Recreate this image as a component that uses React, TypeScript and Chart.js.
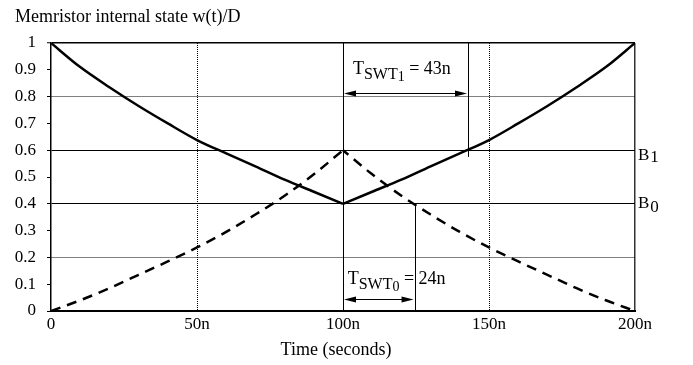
import React, { useEffect, useRef } from "react";
import { Chart, registerables } from "chart.js";

Chart.register(...registerables);

// ---- data (time in ns, value = w(t)/D) ----
const timesDown = [0, 10, 20, 30, 40, 50, 60, 70, 80, 90, 100];
const timesUp = [100, 110, 120, 130, 140, 150, 160, 170, 180, 190, 200];
const solidDown = [1.0, 0.91, 0.835, 0.765, 0.7, 0.638, 0.588, 0.54, 0.49, 0.445, 0.4];
const solidUp = [0.4, 0.445, 0.49, 0.54, 0.588, 0.638, 0.7, 0.765, 0.835, 0.91, 1.0];
const dashedUp = [0, 0.04, 0.085, 0.135, 0.185, 0.237, 0.295, 0.36, 0.43, 0.51, 0.6];
const dashedDown = [0.6, 0.51, 0.43, 0.36, 0.295, 0.237, 0.185, 0.135, 0.085, 0.04, 0.0];

const xTicks = [0, 50, 100, 150, 200];
const xTickLabels = ["0", "50n", "100n", "150n", "200n"];
const yTicks = [0, 0.1, 0.2, 0.3, 0.4, 0.5, 0.6, 0.7, 0.8, 0.9, 1];
const yTickLabels = ["0", "0.1", "0.2", "0.3", "0.4", "0.5", "0.6", "0.7", "0.8", "0.9", "1"];

// annotations
const markerLines = [
  { x: 142.8, y0: 1.0, y1: 0.575 },
  { x: 124.5, y0: 0.4, y1: 0.0 },
];
const arrows = [
  { x0: 100, x1: 142.8, y: 0.815 },
  { x0: 100, x1: 124.5, y: 0.044 },
];
const swtLabels = [
  { x: 103.4, y: 0.884, sub: "1", value: "43n" },
  { x: 101.6, y: 0.1, sub: "0", value: "24n" },
];
const levelLabels = [
  { text: "B", sub: "1", y: 0.563, drop: 2 },
  { text: "B", sub: "0", y: 0.383, drop: 3.4 },
];
const chartTitle = "Memristor internal state w(t)/D";
const xAxisTitle = "Time (seconds)";

const FONT = "'Liberation Serif', 'Times New Roman', serif";

function mk(xs: number[], ys: number[]) {
  return xs.map((x, i) => ({ x, y: ys[i] }));
}

const key = (v: number) => Math.round(v * 10);

export default function App() {
  const ref = useRef<HTMLCanvasElement | null>(null);

  useEffect(() => {
    document.body.style.margin = "0";
    const canvas = ref.current;
    if (!canvas) return;

    const annotate = {
      id: "annotate",
      afterDatasetsDraw(chart: any) {
        const { ctx, scales, chartArea } = chart;
        const xs = scales.x;
        const ys = scales.y;
        ctx.save();
        ctx.strokeStyle = "#000";
        ctx.fillStyle = "#000";
        ctx.lineWidth = 1;
        ctx.setLineDash([]);
        for (const m of markerLines) {
          const px = Math.round(xs.getPixelForValue(m.x)) + 0.5;
          ctx.beginPath();
          ctx.moveTo(px, ys.getPixelForValue(m.y0));
          ctx.lineTo(px, ys.getPixelForValue(m.y1));
          ctx.stroke();
        }
        for (const a of arrows) {
          const x0 = xs.getPixelForValue(a.x0) + 1;
          const x1 = xs.getPixelForValue(a.x1) - 1;
          const py = Math.round(ys.getPixelForValue(a.y)) + 0.5;
          ctx.beginPath();
          ctx.moveTo(x0 + 4, py);
          ctx.lineTo(x1 - 4, py);
          ctx.stroke();
          const L = 12, H = 3;
          ctx.beginPath();
          ctx.moveTo(x0, py);
          ctx.lineTo(x0 + L, py - H);
          ctx.lineTo(x0 + L, py + H);
          ctx.closePath();
          ctx.fill();
          ctx.beginPath();
          ctx.moveTo(x1, py);
          ctx.lineTo(x1 - L, py - H);
          ctx.lineTo(x1 - L, py + H);
          ctx.closePath();
          ctx.fill();
        }
        ctx.textBaseline = "alphabetic";
        ctx.textAlign = "left";
        const parts = (x: number, base: number, ps: { t: string; s: number; dy: number }[]) => {
          let cx = x;
          for (const p of ps) {
            ctx.font = `${p.s}px ${FONT}`;
            ctx.fillText(p.t, cx, base + p.dy);
            cx += ctx.measureText(p.t).width;
          }
        };
        for (const l of swtLabels) {
          parts(xs.getPixelForValue(l.x), ys.getPixelForValue(l.y), [
            { t: "T", s: 18, dy: 0 },
            { t: "SWT", s: 16, dy: 5 },
            { t: l.sub, s: 14, dy: 7 },
            { t: " = " + l.value, s: 18, dy: 0 },
          ]);
        }
        for (const b of levelLabels) {
          const x = chartArea.right + 3;
          const base = ys.getPixelForValue(b.y);
          ctx.font = `17px ${FONT}`;
          ctx.fillText(b.text, x, base);
          const w = ctx.measureText(b.text).width;
          ctx.fillText(b.sub, x + w + 1, base + b.drop);
        }
        ctx.restore();
      },
      afterDraw(chart: any) {
        const { ctx } = chart;
        ctx.save();
        ctx.fillStyle = "#000";
        ctx.textBaseline = "alphabetic";
        ctx.font = `18px ${FONT}`;
        ctx.textAlign = "left";
        ctx.fillText(chartTitle, 15, 22);
        ctx.textAlign = "center";
        ctx.fillText(xAxisTitle, 336, 355);
        ctx.restore();
      },
    };

    const chart = new Chart(canvas, {
      type: "line",
      data: {
        datasets: [
          { data: mk(timesDown, solidDown), borderColor: "#000", borderWidth: 2.5, pointRadius: 0, cubicInterpolationMode: "monotone", fill: false },
          { data: mk(timesUp, solidUp), borderColor: "#000", borderWidth: 2.5, pointRadius: 0, cubicInterpolationMode: "monotone", fill: false },
          { data: mk(timesDown, dashedUp), borderColor: "#000", borderWidth: 2.5, borderDash: [10, 7], pointRadius: 0, cubicInterpolationMode: "monotone", fill: false },
          { data: mk(timesUp, dashedDown), borderColor: "#000", borderWidth: 2.5, borderDash: [10, 7], borderDashOffset: 3, pointRadius: 0, cubicInterpolationMode: "monotone", fill: false },
        ],
      },
      options: {
        animation: false,
        responsive: true,
        maintainAspectRatio: false,
        layout: { padding: { top: 43, right: 58, left: 0, bottom: 0 } },
        plugins: { legend: { display: false }, tooltip: { enabled: false }, title: { display: false } },
        scales: {
          x: {
            type: "linear",
            min: 0,
            max: 200,
            afterBuildTicks: (s: any) => {
              s.ticks = xTicks.map((v) => ({ value: v }));
            },
            afterFit: (s: any) => {
              s.height = 54;
            },
            ticks: {
              color: "#000",
              font: { family: FONT, size: 17 },
              padding: 3,
              maxRotation: 0,
              callback: (v: any) => xTickLabels[xTicks.indexOf(Number(v))] ?? "",
            },
            grid: {
              drawTicks: false,
              lineWidth: (c: any) => (c.tick && c.tick.value === 200 ? 1.5 : 1),
              color: (c: any) => (c.tick && c.tick.value === 0 ? "rgba(0,0,0,0)" : c.tick && c.tick.value === 200 ? "#333" : "#000"),
            },
            border: {
              color: "#000",
              width: 2,
              dash: (c: any) => {
                if (!c || !c.tick) return [];
                const v = c.tick.value;
                return v === 100 || v === 200 ? [] : [1, 1];
              },
            },
          },
          y: {
            type: "linear",
            min: 0,
            max: 1,
            afterBuildTicks: (s: any) => {
              s.ticks = yTicks.map((v) => ({ value: v }));
            },
            afterFit: (s: any) => {
              s.width = 51;
            },
            ticks: {
              color: "#000",
              font: { family: FONT, size: 17 },
              padding: 11,
              callback: (v: any) => yTickLabels[yTicks.findIndex((t) => key(t) === key(Number(v)))] ?? "",
            },
            grid: {
              drawTicks: true,
              tickLength: 4,
              tickColor: "#000",
              tickWidth: 1,
              lineWidth: (c: any) => (c.tick && key(c.tick.value) === 10 ? 1.5 : 1),
              color: (c: any) => {
                if (!c.tick) return "#000";
                const k = key(c.tick.value);
                if (k === 0 || k % 2 === 1) return "rgba(0,0,0,0)";
                return "#000";
              },
            },
            border: {
              color: "#000",
              width: 1.5,
              dash: (c: any) => {
                if (!c || !c.tick) return [];
                const k = key(c.tick.value);
                return k === 4 || k === 6 || k === 10 ? [] : [1, 1];
              },
            },
          },
        },
      } as any,
      plugins: [annotate],
    });

    return () => chart.destroy();
  }, []);

  return (
    <div style={{ position: "relative", width: 693, height: 365 }}>
      <canvas ref={ref} />
    </div>
  );
}
